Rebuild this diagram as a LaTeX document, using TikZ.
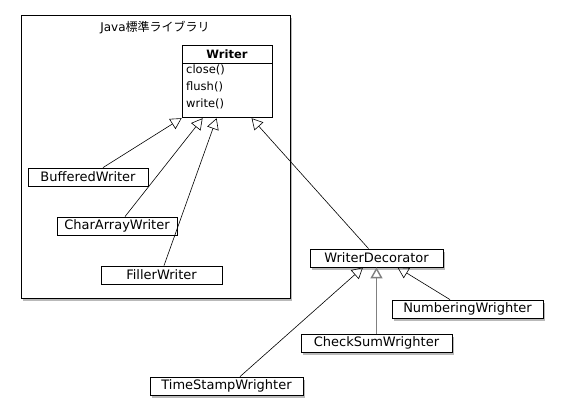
\documentclass[tikz,border=0pt]{standalone}
\usepackage{fontspec}
\setmainfont{DejaVu Sans}
\newfontfamily\jpfont{Noto Sans CJK JP}
\usetikzlibrary{arrows.meta, positioning, calc, shadows}

\begin{document}
\begin{tikzpicture}[x=1pt, y=-1pt,
  cls/.style={draw, fill=white, line width=0.8pt, inner sep=0pt,
    minimum height=18pt, font=\fontsize{13}{15}\selectfont},
  shade/.style={drop shadow={shadow xshift=2pt, shadow yshift=-3.5pt,
    opacity=0.55}},
  meth/.style={inner sep=0pt, anchor=west, font=\fontsize{11.5}{13}\selectfont},
  inherit/.style={-{Triangle[open, length=11pt, width=12pt]}, line width=0.6pt},
  ]
  \useasboundingbox (0,0) rectangle (563,419);

  % package frame
  \node[draw, fill=white, line width=0.8pt, shade, minimum width=269pt,
    minimum height=283pt] (lib) at (155.5,156.5) {};
  \node[font=\fontsize{12}{14}\selectfont] (libname) at (155,28)
    {Java\jpfont 標準ライブラリ};

  % Writer class
  \node[cls, minimum width=90pt, font=\fontsize{11.5}{13}\selectfont\bfseries]
    (writer) at (227,54) {Writer};
  \node[draw, line width=0.8pt, minimum width=90pt, minimum height=54pt,
    below=0pt of writer] (ops) {};
  \foreach \m [count=\i] in {close(), flush(), write()} {
    \node[meth] (op\i) at (186,53+17*\i) {\m};
  }

  % subclasses inside the library
  \node[cls, minimum width=120pt] (bw) at (88,177)    {BufferedWriter};
  \node[cls, minimum width=120pt] (ca) at (117,226)   {CharArrayWriter};
  \node[cls, minimum width=121pt] (fw) at (161.5,275) {FillerWriter};

  % decorators
  \node[cls, shade, minimum width=133pt] (wd) at (376.5,258) {WriterDecorator};
  \node[cls, shade, minimum width=151pt] (nw) at (467.5,309) {NumberingWrighter};
  \node[cls, shade, minimum width=151pt] (cs) at (376.5,343) {CheckSumWrighter};
  \node[cls, shade, minimum width=153pt] (ts) at (226.5,386) {TimeStampWrighter};

  % inheritance
  \draw[inherit] ([xshift=15pt]bw.north) -- (ops.south west);
  \draw[inherit] ([xshift=8pt]ca.north) -- ([xshift=21pt]ops.south west);
  \draw[inherit] ([xshift=2.5pt]fw.north) -- ([xshift=35pt]ops.south west);
  \draw[inherit] ([xshift=-8pt]wd.north) -- ([xshift=70pt]ops.south west);

  \draw[inherit] ([xshift=13.5pt]ts.north) -- ([xshift=-13.5pt]wd.south);
  \draw[inherit, draw=gray, line width=1.4pt] (cs.north) -- (wd.south);
  \draw[inherit] ([xshift=-17.5pt]nw.north) -- ([xshift=21pt]wd.south);
\end{tikzpicture}
\end{document}
